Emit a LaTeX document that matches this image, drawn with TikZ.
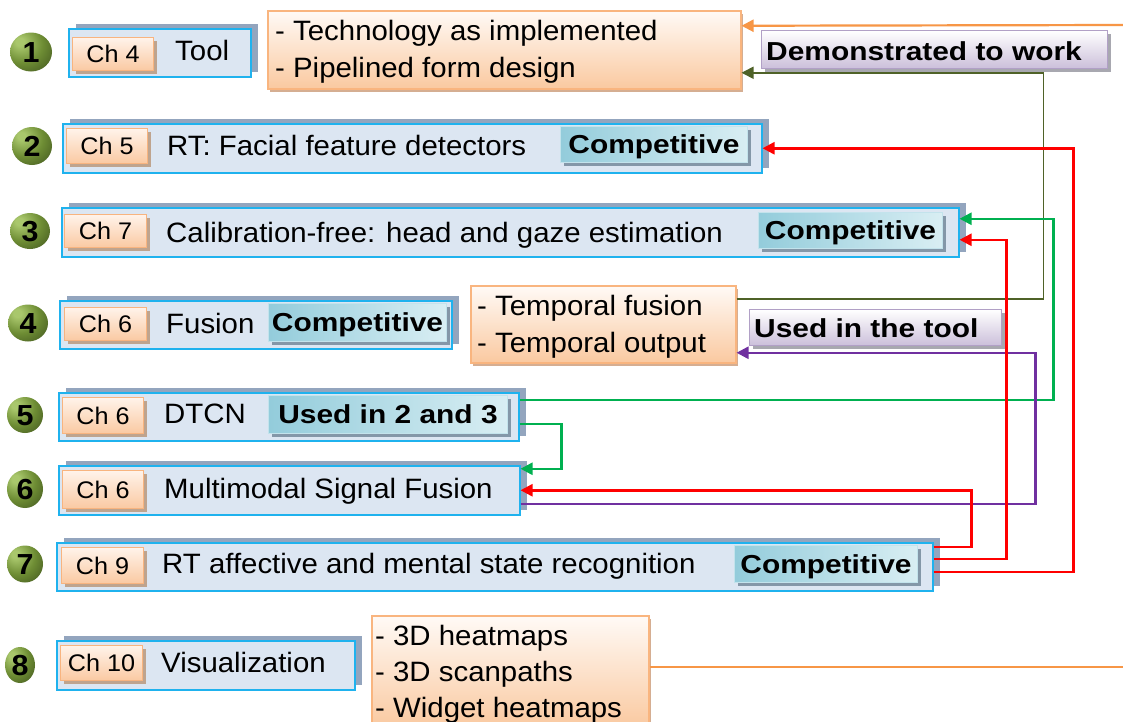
\documentclass[tikz,border=0pt]{standalone}
\usepackage{fontspec}
\setmainfont{Liberation Sans}[FakeStretch=1.05]
\newfontfamily\lblfont{Liberation Sans}[FakeStretch=1.15]
\usetikzlibrary{arrows.meta,calc,shadows,shapes.geometric}

% palette
\definecolor{boxfill}{HTML}{DCE6F2}
\definecolor{boxborder}{HTML}{1FB2EE}
\definecolor{boxshadow}{HTML}{93A5BE}
\definecolor{tagtop}{HTML}{FFF3EA}
\definecolor{tagbottom}{HTML}{FAC9A2}
\definecolor{tagborder}{HTML}{F8B47F}
\definecolor{tagshadow}{HTML}{BFA48E}
\definecolor{compleft}{HTML}{93CCDB}
\definecolor{compright}{HTML}{D9EEF3}
\definecolor{compborder}{HTML}{C3E3EC}
\definecolor{compshadow}{HTML}{8497A8}
\definecolor{notebottom}{HTML}{CBBFDA}
\definecolor{noteborder}{HTML}{B1A0C6}
\definecolor{noteshadow}{HTML}{A8A8B0}
\definecolor{listtop}{HTML}{FFFAF6}
\definecolor{listbottom}{HTML}{FAC9A0}
\definecolor{listborder}{HTML}{F9B57F}
\definecolor{listshadow}{HTML}{D5AE92}
\definecolor{ballhi}{HTML}{A9C76C}
\definecolor{ballmid}{HTML}{6E8D34}
\definecolor{balledge}{HTML}{3A4D1C}
\definecolor{linkred}{HTML}{FF0000}
\definecolor{linkgreen}{HTML}{00B050}
\definecolor{linkpurple}{HTML}{7030A0}
\definecolor{linkolive}{HTML}{4F6228}
\definecolor{linkorange}{HTML}{F79646}

% glossy green marker shading, lit from the upper left
\pgfdeclareradialshading{greenmarker}{\pgfpoint{-14bp}{14bp}}{%
  color(0bp)=(ballhi); color(5bp)=(ballhi); color(24bp)=(ballmid);
  color(48bp)=(balledge); color(90bp)=(balledge)}

\newcommand\rowfont{\fontsize{28}{34}\selectfont}
\newcommand\tagfont{\fontsize{24}{28}\selectfont}
\newcommand\lblsize{\fontsize{26}{30}\selectfont}
\newcommand\numfont{\fontsize{29}{30}\selectfont}

\begin{document}
\begin{tikzpicture}[x=1pt,y=-1pt,
  mainbox/.style={draw=boxborder, line width=1.5pt, fill=boxfill, inner sep=0pt,
    anchor=north west, general shadow={shadow xshift=7pt, shadow yshift=5pt, fill=boxshadow}},
  chtag/.style={draw=tagborder, line width=1.2pt, top color=tagtop, bottom color=tagbottom,
    inner sep=0pt, anchor=north west, font=\tagfont, text height=17pt, text depth=0pt,
    general shadow={shadow xshift=3pt, shadow yshift=-3pt, fill=tagshadow}},
  compbadge/.style={draw=compborder, line width=1pt, left color=compleft, right color=compright,
    inner sep=0pt, anchor=north west, font=\lblfont\lblsize\bfseries,
    text height=18.5pt, text depth=0pt,
    general shadow={shadow xshift=3pt, shadow yshift=-3pt, fill=compshadow}},
  notelabel/.style={draw=noteborder, line width=1.2pt, top color=white, bottom color=notebottom,
    inner sep=0pt, anchor=north west,
    general shadow={shadow xshift=3pt, shadow yshift=-3pt, fill=noteshadow}},
  notetext/.style={anchor=base west, inner sep=0pt, font=\lblfont\lblsize\bfseries},
  listbox/.style={draw=listborder, line width=1.5pt, top color=listtop, bottom color=listbottom,
    inner sep=0pt, anchor=north west,
    general shadow={shadow xshift=2pt, shadow yshift=-3pt, fill=listshadow}},
  rowtext/.style={anchor=base west, inner sep=0pt, font=\rowfont},
  numball/.style={ellipse, shading=greenmarker, inner sep=0pt, font=\numfont\bfseries,
    text height=21pt, text depth=0pt},
  link/.style={line width=2.5pt, -{Triangle[length=12pt,width=12pt]}},
  plainlink/.style={line width=2.2pt},
]
\path[use as bounding box, fill=white] (0,0) rectangle (1123,721);
\clip (0,0) rectangle (1123,721);

% numbered markers
\node[numball, minimum width=42pt, minimum height=39pt] (n1) at (31,52) {1};
\node[numball, minimum width=40pt, minimum height=38pt] (n2) at (32,146) {2};
\node[numball, minimum width=40pt, minimum height=36pt] (n3) at (30,231) {3};
\node[numball, minimum width=40pt, minimum height=37pt] (n4) at (28,323) {4};
\node[numball, minimum width=36pt, minimum height=36pt] (n5) at (25,415) {5};
\node[numball, minimum width=36pt, minimum height=38pt] (n6) at (25,489) {6};
\node[numball, minimum width=36pt, minimum height=37pt] (n7) at (25,564) {7};
\node[numball, minimum width=30pt, minimum height=36pt] (n8) at (20,665) {8};

% row 1
\node[mainbox, minimum width=182pt, minimum height=48pt] (b1) at (68,28) {};
\node[chtag, minimum width=81pt, minimum height=33pt] (t1) at (72,37) {Ch 4};
\node[rowtext] (r1) at (175,60) {Tool};

% row 2
\node[mainbox, minimum width=699pt, minimum height=49pt] (b2) at (62,123) {};
\node[chtag, minimum width=81pt, minimum height=35pt] (t2) at (66,128) {Ch 5};
\node[rowtext] (r2) at (167,155) {RT: Facial feature detectors};
\node[compbadge, minimum width=187pt, minimum height=36pt] (c2) at (560,126) {Competitive};

% row 3
\node[mainbox, minimum width=897pt, minimum height=49pt] (b3) at (61,207) {};
\node[chtag, minimum width=82pt, minimum height=33pt] (t3) at (64,214) {Ch 7};
\node[rowtext] (r3) at (166,242) {Calibration-free: head and gaze estimation};
\node[compbadge, minimum width=184pt, minimum height=36pt] (c3) at (758,212) {Competitive};

% row 4
\node[mainbox, minimum width=392pt, minimum height=48pt] (b4) at (59,300) {};
\node[chtag, minimum width=82pt, minimum height=33pt] (t4) at (64,307) {Ch 6};
\node[rowtext] (r4) at (166,333) {Fusion};
\node[compbadge, minimum width=178pt, minimum height=38pt] (c4) at (268,303) {Competitive};

% row 5
\node[mainbox, minimum width=460pt, minimum height=48pt] (b5) at (58,392) {};
\node[chtag, minimum width=81pt, minimum height=36pt] (t5) at (62,397) {Ch 6};
\node[rowtext] (r5) at (164,423) {DTCN};
\node[compbadge, minimum width=239pt, minimum height=38pt] (c5) at (268,395) {Used in 2 and 3};

% row 6
\node[mainbox, minimum width=461pt, minimum height=49pt] (b6) at (58,465) {};
\node[chtag, minimum width=81pt, minimum height=38pt] (t6) at (62,470) {Ch 6};
\node[rowtext] (r6) at (164,498) {Multimodal Signal Fusion};

% row 7
\node[mainbox, minimum width=876pt, minimum height=48pt] (b7) at (56,542) {};
\node[chtag, minimum width=82pt, minimum height=36pt] (t7) at (61,547) {Ch 9};
\node[rowtext] (r7) at (162,573) {RT affective and mental state recognition};
\node[compbadge, minimum width=183pt, minimum height=37pt] (c7) at (734,545) {Competitive};

% row 8
\node[mainbox, minimum width=298pt, minimum height=49pt] (b8) at (56,640) {};
\node[chtag, minimum width=82pt, minimum height=35pt] (t8) at (60,645) {Ch 10};
\node[rowtext] (r8) at (161,672) {Visualization};

% side lists
\node[listbox, minimum width=473pt, minimum height=78pt] (tech) at (267,10) {};
\node[rowtext] (tech1) at (275,40) {- Technology as implemented};
\node[rowtext] (tech2) at (275,77) {- Pipelined form design};

\node[listbox, minimum width=265pt, minimum height=77pt] (temp) at (470,285) {};
\node[rowtext] (temp1) at (477,315) {- Temporal fusion};
\node[rowtext] (temp2) at (477,352) {- Temporal output};

\node[listbox, minimum width=277pt, minimum height=112pt] (viz) at (371,615) {};
\node[rowtext] (viz1) at (375,645) {- 3D heatmaps};
\node[rowtext] (viz2) at (375,681) {- 3D scanpaths};
\node[rowtext] (viz3) at (375,717) {- Widget heatmaps};

% purple notes
\node[notelabel, minimum width=346pt, minimum height=38pt] (demo) at (761,30) {};
\node[notetext] (demot) at (766,60) {Demonstrated to work};
\node[notelabel, minimum width=252pt, minimum height=36pt] (used) at (749,309) {};
\node[notetext] (usedt) at (754,337) {Used in the tool};

% connectors
\coordinate (topin) at (1123,25);
\coordinate (botout) at (1123,667);
\draw[link, linkorange, line width=2.2pt] (topin) -- ($(tech.east)+(0,-24)$);
\draw[plainlink, linkorange] (viz.east |- botout) -- (botout);

\draw[link, linkolive, line width=1.8pt] ($(temp.east)+(0,-25.5)$) -- ++(307,0) |- ($(tech.east)+(0,23)$);

\draw[link, linkgreen] ($(b5.east)+(0,-17)$) -- ++(534,0) |- ($(b3.east)+(0,-13.5)$);
\draw[link, linkgreen] ($(b5.east)+(0,7)$) -- ++(42,0) |- ($(b6.east)+(0,-21.5)$);

\draw[link, linkpurple] ($(b6.east)+(0,13.5)$) -- ++(515,0) |- ($(temp.east)+(0,28.5)$);

\draw[link, linkred] ($(b7.east)+(0,-20)$) -- ++(38,0) |- (b6.east);
\draw[link, linkred] ($(b7.east)+(0,-8)$) -- ++(73,0) |- ($(b3.east)+(0,7.5)$);
\draw[link, linkred] ($(b7.east)+(0,5)$) -- ++(140,0) |- (b2.east);
\end{tikzpicture}
\end{document}
